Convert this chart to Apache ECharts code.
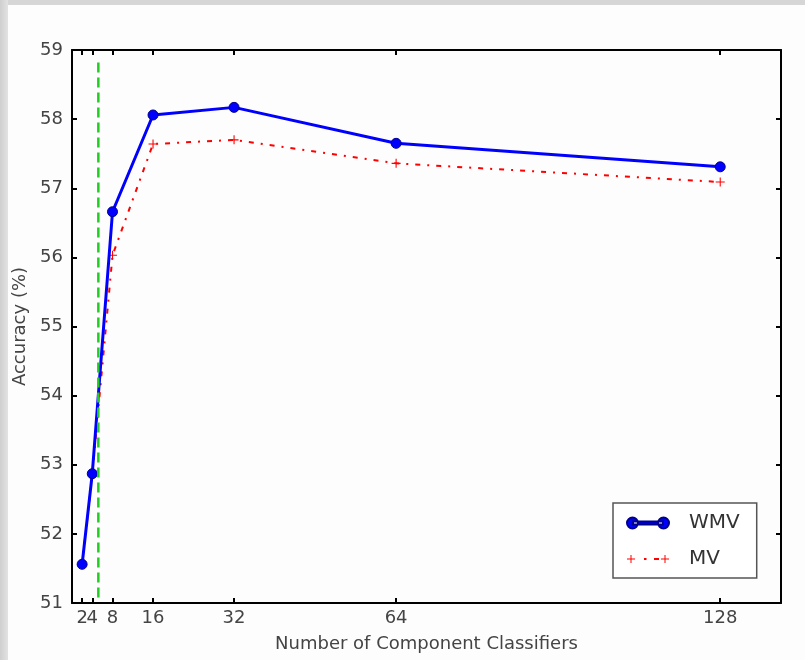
<!DOCTYPE html>
<html>
<head>
<meta charset="utf-8">
<script src="https://cdn.jsdelivr.net/npm/echarts@6/dist/echarts.min.js"></script>
<style>
html,body{margin:0;padding:0;background:#fdfdfd;}
#chart{width:805px;height:660px;}
</style>
</head>
<body>
<div id="chart"></div>
<script>
var xTicks = [2, 4, 8, 16, 32, 64, 128];
var wmvValues = [51.56, 52.87, 56.66, 58.06, 58.17, 57.65, 57.31];
var mvValues = [51.56, 52.85, 56.03, 57.64, 57.70, 57.36, 57.09];
var dividerX = 5.2;
var dividerY = [51.08, 58.85];
var seriesNames = ['WMV', 'MV'];

var wmvData = xTicks.map(function (x, i) { return [x, wmvValues[i]]; });
var mvData = xTicks.map(function (x, i) { return [x, mvValues[i]]; });
var dividerData = dividerY.map(function (y) { return [dividerX, y]; });
// the first tick label is drawn by a separate label-only axis so the tight "2"/"4" pair is not dropped
var xLabelsMain = xTicks.slice(1);
var xLabelsFirst = xTicks.slice(0, 1);

var plusPath = 'path://M4.4,0h1.2v4.4h4.4v1.2h-4.4v4.4h-1.2v-4.4h-4.4v-1.2h4.4z';
var wmvIcon = 'path://M0,6a5.5,5.5 0 1,0 11,0a5.5,5.5 0 1,0 -11,0zM6,4.6h30v2.8h-30zM31,6a5.5,5.5 0 1,0 11,0a5.5,5.5 0 1,0 -11,0z';
var mvIcon = 'path://M3.5,0h1v3.5h3.5v1h-3.5v3.5h-1v-3.5h-3.5v-1h3.5zM17,3h2.5v2h-2.5zM27,3h5v2h-5zM37.5,0h1v3.5h3.5v1h-3.5v3.5h-1v-3.5h-3.5v-1h3.5z';

var textColor = '#444';
var fontFamily = 'DejaVu Sans';

var chart = echarts.init(document.getElementById('chart'), null, {renderer: 'canvas'});
var option = {
  backgroundColor: '#fdfdfd',
  animation: false,
  graphic: [
    {type: 'rect', left: 0, top: 0, shape: {width: 805, height: 5}, style: {fill: '#d6d6d6'}, z: 100},
    {type: 'rect', left: 0, top: 0, shape: {width: 8, height: 660},
      style: {fill: new echarts.graphic.LinearGradient(0, 0, 1, 0, [{offset: 0, color: '#cfcfcf'}, {offset: 1, color: '#e2e2e2'}])}, z: 100}
  ],
  grid: {left: 72, right: 24, top: 50, bottom: 57, containLabel: false},
  legend: {
    orient: 'vertical',
    left: 613,
    top: 503,
    padding: [10, 17, 9, 13],
    itemGap: 16,
    itemWidth: 42,
    itemHeight: 12,
    backgroundColor: '#ffffff',
    borderColor: '#555',
    borderWidth: 1.5,
    borderRadius: 0,
    textStyle: {fontSize: 20, color: '#333', fontFamily: fontFamily, padding: [0, 0, 0, 15]},
    data: [
      {name: seriesNames[0], icon: wmvIcon},
      {name: seriesNames[1], icon: mvIcon}
    ]
  },
  xAxis: [
    {
      type: 'value', min: 0, max: 140, position: 'bottom',
      name: 'Number of Component Classifiers', nameLocation: 'middle', nameGap: 32,
      nameTextStyle: {fontSize: 18, color: textColor, fontFamily: fontFamily},
      axisLine: {show: true, onZero: false, lineStyle: {color: '#000', width: 2}},
      axisTick: {show: true, inside: true, length: 5, customValues: xTicks, lineStyle: {color: '#000', width: 2}},
      axisLabel: {customValues: xLabelsMain, color: textColor, fontSize: 18, fontFamily: fontFamily, margin: 6,
        hideOverlap: false, showMinLabel: true, showMaxLabel: true},
      splitLine: {show: false}
    },
    {
      type: 'value', min: 0, max: 140, position: 'top',
      axisLine: {show: true, onZero: false, lineStyle: {color: '#000', width: 2}},
      axisTick: {show: true, inside: true, length: 5, customValues: xTicks, lineStyle: {color: '#000', width: 2}},
      axisLabel: {show: false},
      splitLine: {show: false}
    },
    {
      type: 'value', min: 0, max: 140, position: 'bottom',
      axisLine: {show: false, onZero: false},
      axisTick: {show: false},
      axisLabel: {customValues: xLabelsFirst, color: textColor, fontSize: 18, fontFamily: fontFamily, margin: 6,
        hideOverlap: false, showMinLabel: true, showMaxLabel: true},
      splitLine: {show: false}
    }
  ],
  yAxis: [
    {
      type: 'value', min: 51, max: 59, interval: 1, position: 'left',
      name: 'Accuracy (%)', nameLocation: 'middle', nameGap: 41, nameRotate: 90,
      nameTextStyle: {fontSize: 18, color: textColor, fontFamily: fontFamily},
      axisLine: {show: true, onZero: false, lineStyle: {color: '#000', width: 2}},
      axisTick: {show: true, inside: true, length: 5, lineStyle: {color: '#000', width: 2}},
      axisLabel: {color: textColor, fontSize: 18, fontFamily: fontFamily, margin: 9},
      splitLine: {show: false}
    },
    {
      type: 'value', min: 51, max: 59, interval: 1, position: 'right',
      axisLine: {show: true, onZero: false, lineStyle: {color: '#000', width: 2}},
      axisTick: {show: true, inside: true, length: 5, lineStyle: {color: '#000', width: 2}},
      axisLabel: {show: false},
      splitLine: {show: false}
    }
  ],
  series: [
    {
      name: seriesNames[1], type: 'line', data: mvData,
      symbol: plusPath, symbolSize: 9,
      lineStyle: {color: '#ff0000', width: 2, type: [5, 7, 2, 7]},
      itemStyle: {color: '#ff0000'},
      z: 3
    },
    {
      name: seriesNames[0], type: 'line', data: wmvData,
      symbol: 'circle', symbolSize: 10,
      lineStyle: {color: '#0000ff', width: 3},
      itemStyle: {color: '#0000ff', borderColor: '#00008b', borderWidth: 1},
      z: 4
    },
    {
      name: 'divider', type: 'line', data: dividerData,
      symbol: 'none', silent: true,
      lineStyle: {color: '#22cc22', width: 2.5, type: [10, 5]},
      z: 5
    }
  ]
};
chart.setOption(option);
</script>
</body>
</html>
